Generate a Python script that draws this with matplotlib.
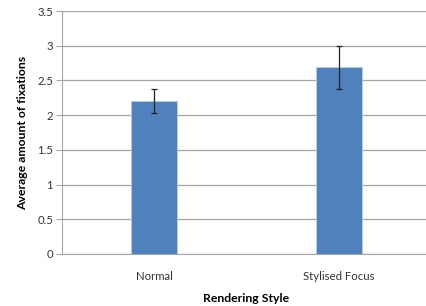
import matplotlib.pyplot as plt

# Data
styles = ['Normal', 'Stylised Focus']
means = [2.20, 2.69]
err_low = [0.17, 0.32]
err_high = [0.17, 0.31]

plt.rcParams['font.family'] = ['Lato', 'DejaVu Sans']

fig = plt.figure(figsize=(4.26, 3.06), dpi=100)
ax = fig.add_axes([61.5 / 426, 52 / 306, 370 / 426, 243 / 306])

x = range(len(styles))
ax.bar(x, means, width=0.25, color='#4F81BD', edgecolor='#B9CDE5', linewidth=0.6, zorder=3)
ax.errorbar(x, means, yerr=[err_low, err_high], fmt='none', ecolor='#222222',
            elinewidth=0.9, capsize=2.5, capthick=0.9, zorder=4)

ax.set_xlim(-0.5, 1.5)
ax.set_ylim(0, 3.5)
ax.set_yticks([0, 0.5, 1, 1.5, 2, 2.5, 3, 3.5])
ax.set_yticklabels(['0', '0.5', '1', '1.5', '2', '2.5', '3', '3.5'])
ax.set_xticks(list(x))
ax.set_xticklabels(styles)
ax.yaxis.grid(True, color='#A6A6A6', linewidth=0.9, zorder=0)
ax.set_axisbelow(True)

for s in ['top', 'right']:
    ax.spines[s].set_visible(False)
ax.spines['left'].set_color('#A6A6A6')
ax.spines['bottom'].set_color('#A6A6A6')
ax.tick_params(axis='y', length=4, color='#A6A6A6', labelsize=8.2, pad=2, labelcolor='#333333')
ax.tick_params(axis='x', length=0, labelsize=8.2, pad=12, labelcolor='#333333')

ax.set_xlabel('Rendering Style', fontsize=8.8, fontweight='bold', labelpad=8)
ax.set_ylabel('Average amount of fixations', fontsize=8.8, fontweight='bold', labelpad=7)

plt.savefig('out.png', dpi=100)
